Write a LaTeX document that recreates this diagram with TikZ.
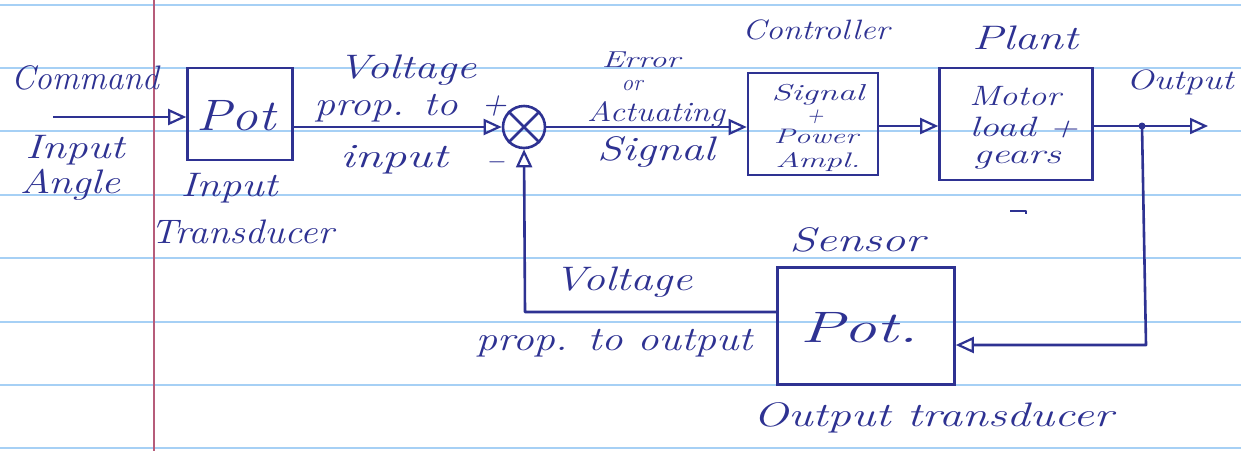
\documentclass[tikz,border=0pt]{standalone}
\usetikzlibrary{arrows.meta}
\definecolor{ink}{RGB}{46,50,146}
\definecolor{rule}{RGB}{166,208,245}
\definecolor{margin}{RGB}{182,92,122}
% stretch a handwritten-style label horizontally
\newcommand{\wide}[2]{\scalebox{#1}[1]{#2}}
\begin{document}
\begin{tikzpicture}[x=1pt,y=-1pt,
  wire/.style={draw=ink,line width=2.6pt,line join=round},
  tip/.style={-{Triangle[open,length=18pt,width=16pt,line width=2.2pt]}},
  block/.style={draw=ink,line width=2.6pt,rectangle,inner sep=0pt},
  hand/.style={text=ink,font=\fontsize{34}{36}\selectfont\itshape,inner sep=0pt,align=center},
  mid/.style={text=ink,font=\fontsize{28}{30}\selectfont\itshape,inner sep=0pt,align=center},
  tiny/.style={text=ink,font=\fontsize{23}{24}\selectfont\itshape,inner sep=0pt,align=center},
  big/.style={text=ink,font=\fontsize{44}{46}\selectfont\itshape,inner sep=0pt,align=center}]
% page and ruling
\useasboundingbox (0,0) rectangle (1241,451);
\fill[white] (0,0) rectangle (1241,451);
\foreach \yy in {5,68,131,195,258,322,385,448}
  \draw[rule,line width=2.6pt] (0,\yy) -- (1241,\yy);
\draw[margin,line width=2.4pt] (154,0) -- (154,451);

% blocks
\node[block,minimum width=105pt,minimum height=92pt] (pot1) at (240,114) {};
\node[draw=ink,line width=2.6pt,circle,minimum size=42pt,inner sep=0pt] (sum) at (524,127) {};
\node[block,minimum width=130pt,minimum height=102pt] (ctrl) at (813,124) {};
\node[block,minimum width=153pt,minimum height=112pt] (plant) at (1016,124) {};
\node[block,minimum width=177pt,minimum height=117pt] (sensor) at (866,326) {};

% cross inside the summing junction
\draw[wire] (sum.north west) -- (sum.south east);
\draw[wire] (sum.north east) -- (sum.south west);

% connector end points
\coordinate (in) at (53,117);
\coordinate (branch) at (1142,126);
\coordinate (out) at (1208,126);
\coordinate (fb) at (1146,345);
\coordinate (fl) at (525,312);

% forward path
\draw[wire,tip] (in) -- (in -| pot1.west);
\draw[wire,tip] (pot1.east |- sum) -- (sum.west);
\draw[wire,tip] (sum.east) -- (ctrl.west |- sum);
\draw[wire,tip] (ctrl.east |- 0,126) -- (plant.west |- 0,126);
\draw[wire] (plant.east |- branch) -- (branch);
\draw[wire,tip] (branch) -- (out);
\fill[ink] (branch) circle (3.5pt);

% feedback path
\draw[wire,tip] (branch) -- (fb) -- (fb -| sensor.east);
\draw[wire,tip] (fl -| sensor.west) -- (fl) -- (sum.south);

% stray pen mark
\draw[wire] (1010,211) -- (1026,211) -- (1026,214);

% labels
\node[hand] (lcmd) at (85,78) {Command};
\node[hand] (lin1) at (75,150) {\wide{1.28}{Input}};
\node[hand] (lin2) at (70,185) {\wide{1.24}{Angle}};
\node[big] (lpot1) at (236,116) {\wide{1.2}{Pot}};
\node[hand] (lit1) at (229,188) {\wide{1.25}{Input}};
\node[hand] (lit2) at (242,232) {\wide{1.14}{Transducer}};
\node[hand] (lv1) at (407,70) {\wide{1.3}{Voltage}};
\node[hand] (lv2) at (386,108) {\wide{1.22}{prop. to}};
\node[hand] (lv3) at (394,160) {\wide{1.44}{input}};
\node[hand] (lplus) at (494,106) {+};
\node[hand] (lminus) at (497,162) {$-$};
\node[tiny] (le1) at (641,60) {\wide{1.45}{Error}};
\node[tiny] (le2) at (632,86) {or};
\node[mid] (le3) at (656,114) {\wide{1.2}{Actuating}};
\node[hand] (le4) at (656,152) {\wide{1.33}{Signal}};
\node[mid] (lctrl) at (816,30) {\wide{1.2}{Controller}};
\node[tiny] (lc1) at (818,95) {\wide{1.55}{Signal}};
\node[tiny] (lc2) at (815,117) {+};
\node[text=ink,font=\fontsize{21}{22}\selectfont\itshape,inner sep=0pt] (lc3) at (816,136) {\wide{1.5}{Power}};
\node[text=ink,font=\fontsize{21}{22}\selectfont\itshape,inner sep=0pt] (lc4) at (818,162) {\wide{1.6}{Ampl.}};
\node[hand] (lplant) at (1025,38) {\wide{1.36}{Plant}};
\node[mid] (lp1) at (1015,96) {\wide{1.25}{Motor}};
\node[mid] (lp2) at (1024,127) {\wide{1.38}{load +}};
\node[mid] (lp3) at (1017,160) {\wide{1.45}{gears}};
\node[mid] (lout) at (1180,82) {\wide{1.3}{Output}};
\node[hand] (lsen) at (857,240) {\wide{1.39}{Sensor}};
\node[big] (lpot2) at (859,328) {\wide{1.5}{Pot.}};
\node[hand] (lfv1) at (623,282) {\wide{1.3}{Voltage}};
\node[hand] (lfv2) at (614,343) {\wide{1.25}{prop. to output}};
\node[hand] (lot) at (933,418) {\wide{1.37}{Output transducer}};
\end{tikzpicture}
\end{document}
